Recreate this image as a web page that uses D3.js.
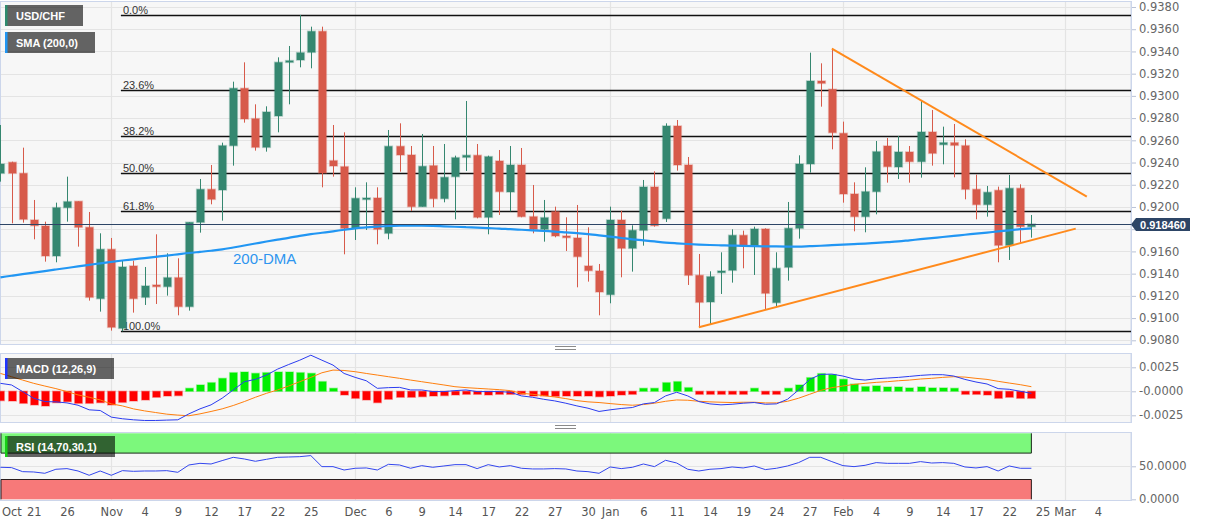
<!DOCTYPE html>
<html><head><meta charset="utf-8">
<script src="https://cdn.jsdelivr.net/npm/d3@7"></script>
<style>body{margin:0;background:#fff}svg{display:block}</style>
</head><body><svg id="c" width="1207" height="526"></svg>
<script>
// ---------- DATA (trading-day index: 0 = Oct 21) ----------
const firstIndex = -3;
const open = [0.92303,0.92402,0.92303,0.91883,0.91829,0.91559,0.91994,0.92051,0.91817,0.91175,
0.91619,0.90908,0.91469,0.91187,0.91298,0.91283,0.91364,0.91103,0.91862,0.92159,
0.92153,0.92552,0.93068,0.92795,0.92537,0.92819,0.93302,0.93323,0.93392,0.93581,
0.92417,0.92363,0.91808,0.92075,0.92081,0.91763,0.92546,0.92468,0.92003,0.92372,
0.92075,0.92273,0.92447,0.92465,0.91907,0.92414,0.92135,0.92378,0.91913,0.91799,
0.91958,0.91739,0.91721,0.91469,0.91424,0.91211,0.91883,0.91628,0.91790,0.92180,
0.91895,0.92729,0.92378,0.91385,0.91145,0.91409,0.91430,0.91745,0.91649,0.91802,
0.91139,0.91457,0.91808,0.92387,0.93134,0.93059,0.92663,0.92117,0.91913,0.92138,
0.92549,0.92360,0.92495,0.92408,0.92675,0.92561,0.92579,0.92552,0.92159,0.92021,
0.92150,0.91655,0.92168,0.91823];
const high = [0.92738,0.92408,0.92534,0.92063,0.91868,0.92039,0.92273,0.92051,0.91955,0.91763,
0.91721,0.91517,0.91517,0.91460,0.91754,0.91583,0.91538,0.91862,0.92252,0.92378,
0.92579,0.93128,0.93302,0.92924,0.92906,0.93347,0.93449,0.93728,0.93623,0.93623,
0.92738,0.92672,0.92177,0.92222,0.92177,0.92693,0.92753,0.92549,0.92657,0.92549,
0.92567,0.92462,0.92954,0.92567,0.92462,0.92513,0.92549,0.92531,0.92198,0.92063,
0.92003,0.91907,0.92018,0.91817,0.91487,0.92003,0.91967,0.91835,0.92243,0.92321,
0.92753,0.92783,0.92450,0.91577,0.91421,0.91592,0.91799,0.91787,0.91823,0.91808,
0.91592,0.92045,0.92465,0.93389,0.93293,0.93425,0.92768,0.92222,0.92357,0.92594,
0.92621,0.92639,0.92549,0.92954,0.92873,0.92723,0.92747,0.92609,0.92291,0.92189,
0.92183,0.92288,0.92204,0.91928];
const low = [0.92228,0.91853,0.91859,0.91709,0.91508,0.91502,0.91868,0.91643,0.91157,0.91058,
0.90887,0.90881,0.91049,0.91118,0.91127,0.91202,0.91025,0.91067,0.91769,0.92024,
0.91877,0.92372,0.92759,0.92507,0.92498,0.92672,0.92924,0.93257,0.93248,0.92177,
0.92273,0.91574,0.91703,0.91793,0.91664,0.91709,0.92318,0.91964,0.92003,0.91997,
0.92042,0.91889,0.92324,0.91898,0.91754,0.91928,0.91961,0.91907,0.91763,0.91688,
0.91727,0.91604,0.91277,0.91328,0.91025,0.91133,0.91367,0.91418,0.91652,0.91823,
0.91865,0.92327,0.91298,0.90917,0.90947,0.91217,0.91319,0.91448,0.91388,0.91079,
0.91103,0.91337,0.91715,0.92309,0.92903,0.92519,0.92039,0.91781,0.91772,0.91934,
0.92219,0.92252,0.92219,0.92264,0.92372,0.92384,0.92267,0.92069,0.91889,0.91913,
0.91502,0.91523,0.91679,0.91724];
const close = [0.92387,0.92303,0.91889,0.91832,0.91559,0.91994,0.92048,0.91817,0.91187,0.91619,
0.90917,0.91460,0.91175,0.91289,0.91283,0.91364,0.91103,0.91862,0.92159,0.92069,
0.92552,0.93068,0.92792,0.92537,0.92855,0.93302,0.93317,0.93389,0.93581,0.92306,
0.92369,0.91808,0.92078,0.92081,0.91799,0.92546,0.92468,0.92003,0.92366,0.92075,
0.92267,0.92444,0.92465,0.91907,0.92453,0.92138,0.92378,0.91913,0.91799,0.91904,
0.91739,0.91724,0.91553,0.91427,0.91235,0.91883,0.91628,0.91790,0.92180,0.91832,
0.92729,0.92378,0.91385,0.91142,0.91373,0.91424,0.91745,0.91649,0.91802,0.91223,
0.91448,0.91808,0.92387,0.93134,0.93113,0.92669,0.92117,0.91913,0.92138,0.92498,
0.92363,0.92495,0.92408,0.92675,0.92483,0.92579,0.92555,0.92159,0.92021,0.92132,
0.91655,0.92168,0.91823,0.91846];
const sma200 = [0.91367,0.91381,0.91395,0.91409,0.91423,0.91437,0.91451,0.91465,0.91479,0.91493,
0.91506,0.91518,0.91529,0.91540,0.91551,0.91562,0.91574,0.91586,0.91596,0.91606,
0.91618,0.91635,0.91653,0.91671,0.91689,0.91706,0.91722,0.91740,0.91755,0.91768,
0.91781,0.91795,0.91808,0.91816,0.91823,0.91829,0.91832,0.91833,0.91832,0.91830,
0.91826,0.91822,0.91818,0.91814,0.91810,0.91806,0.91800,0.91795,0.91790,0.91784,
0.91779,0.91772,0.91765,0.91756,0.91745,0.91733,0.91721,0.91709,0.91700,0.91690,
0.91680,0.91673,0.91667,0.91662,0.91658,0.91655,0.91652,0.91650,0.91648,0.91646,
0.91645,0.91644,0.91643,0.91647,0.91651,0.91656,0.91661,0.91666,0.91671,0.91677,
0.91683,0.91690,0.91700,0.91710,0.91720,0.91730,0.91740,0.91750,0.91760,0.91770,
0.91780,0.91790,0.91800,0.91808];
const macdLine = [0.00083,0.00066,-0.00003,-0.00072,-0.00107,-0.00110,-0.00121,-0.00145,-0.00193,-0.00200,
-0.00269,-0.00286,-0.00297,-0.00304,-0.00304,-0.00300,-0.00297,-0.00235,-0.00183,-0.00141,
-0.00072,0.00014,0.00100,0.00124,0.00169,0.00231,0.00279,0.00324,0.00376,0.00324,
0.00273,0.00186,0.00145,0.00110,0.00031,0.00038,0.00041,0.00014,0.00014,-0.00003,
-0.00003,0.00007,0.00014,-0.00003,-0.00003,-0.00003,-0.00010,-0.00048,-0.00062,-0.00083,
-0.00100,-0.00124,-0.00152,-0.00176,-0.00210,-0.00193,-0.00179,-0.00169,-0.00131,-0.00117,
-0.00048,-0.00010,-0.00048,-0.00107,-0.00131,-0.00141,-0.00135,-0.00124,-0.00117,-0.00135,
-0.00131,-0.00083,0.00014,0.00124,0.00176,0.00179,0.00159,0.00128,0.00117,0.00131,
0.00138,0.00145,0.00155,0.00166,0.00173,0.00173,0.00159,0.00124,0.00097,0.00076,
0.00028,0.00021,0.00000,-0.00021];
const signalLine = [0.00186,0.00152,0.00117,0.00083,0.00055,0.00028,-0.00003,-0.00038,-0.00062,-0.00090,
-0.00131,-0.00152,-0.00183,-0.00204,-0.00221,-0.00238,-0.00248,-0.00255,-0.00235,-0.00210,
-0.00183,-0.00148,-0.00107,-0.00062,-0.00021,0.00014,0.00055,0.00100,0.00145,0.00193,
0.00221,0.00217,0.00204,0.00186,0.00169,0.00152,0.00135,0.00117,0.00100,0.00083,
0.00066,0.00048,0.00038,0.00031,0.00024,0.00017,0.00007,-0.00021,-0.00031,-0.00045,
-0.00059,-0.00076,-0.00097,-0.00110,-0.00117,-0.00128,-0.00138,-0.00145,-0.00138,-0.00124,
-0.00104,-0.00090,-0.00093,-0.00104,-0.00110,-0.00114,-0.00117,-0.00114,-0.00114,-0.00121,
-0.00121,-0.00104,-0.00072,-0.00031,0.00010,0.00038,0.00055,0.00072,0.00083,0.00093,
0.00100,0.00110,0.00117,0.00128,0.00135,0.00145,0.00152,0.00148,0.00135,0.00124,
0.00104,0.00086,0.00069,0.00048];
const macdHist = [-0.00097,-0.00101,-0.00125,-0.00142,-0.00153,-0.00118,-0.00108,-0.00125,-0.00125,-0.00118,
-0.00142,-0.00115,-0.00101,-0.00090,-0.00062,-0.00049,-0.00045,0.00014,0.00066,0.00090,
0.00135,0.00194,0.00201,0.00187,0.00194,0.00201,0.00201,0.00194,0.00187,0.00101,
0.00031,-0.00038,-0.00073,-0.00090,-0.00118,-0.00083,-0.00062,-0.00062,-0.00056,-0.00049,
-0.00045,-0.00038,-0.00031,-0.00021,-0.00038,-0.00031,-0.00024,-0.00031,-0.00049,-0.00049,
-0.00052,-0.00049,-0.00049,-0.00049,-0.00056,-0.00049,-0.00038,-0.00021,0.00021,0.00024,
0.00090,0.00101,0.00038,-0.00021,-0.00031,-0.00031,-0.00014,-0.00014,0.00003,-0.00014,
-0.00014,0.00007,0.00066,0.00142,0.00184,0.00174,0.00125,0.00076,0.00049,0.00056,
0.00045,0.00045,0.00035,0.00045,0.00035,0.00035,0.00028,-0.00007,-0.00031,-0.00038,
-0.00073,-0.00062,-0.00073,-0.00073];
const rsi = [48.5,48.0,41.9,41.4,39.4,45.5,46.5,42.9,36.4,42.9,
36.4,43.4,42.4,42.9,42.9,43.4,40.9,52.0,54.5,53.5,
58.6,63.6,61.1,57.6,60.6,63.6,64.1,64.6,66.2,49.5,
49.5,44.4,47.0,47.5,44.4,53.0,52.0,47.0,51.0,48.5,
50.5,52.5,52.5,46.5,52.5,49.0,51.0,47.0,46.0,46.0,
46.5,46.0,42.9,41.9,39.4,49.0,46.5,48.5,53.5,49.5,
59.1,55.0,45.5,42.9,45.5,46.5,49.0,47.5,50.5,45.0,
47.0,50.5,55.6,63.6,63.6,57.1,51.0,49.5,51.5,55.6,
54.5,54.5,54.5,57.1,55.0,55.6,54.5,49.0,47.5,49.5,
42.9,50.5,47.0,47.0];

const priceTicks = [0.938,0.936,0.934,0.932,0.930,0.928,0.926,0.924,0.922,0.920,0.918,0.916,0.914,0.912,0.910,0.908];
const macdTicks = [0.0025, 0, -0.0025];
const macdTickText = ["0.0025", "-0.0000", "-0.0025"];
const rsiTicks = [50, 0];
const rsiTickText = ["50.0000", "0.0000"];
const xTickIdx  = [-3,0,3,7,10,13,16,19,22,25,29,32,35,38,41,44,47,50,52,55,58,61,64,67,70,73,76,79,82,85,88,91,93,96];
const xTickText = ["Oct","21","26","Nov","4","9","12","17","22","25","Dec","6","9","14","17","22","27","30","Jan","6","11","14","19","24","27","Feb","4","9","14","17","22","25","Mar","4"];
const monthStarts = [7,29,52,73,93];
const fibLevels = [0, 0.236, 0.382, 0.5, 0.618, 1];
const fibText = ["0.0%","23.6%","38.2%","50.0%","61.8%","100.0%"];
const fibHigh = 0.93725, fibLow = 0.90881, fibStartIdx = 8;
const downTrend = [[72, 0.93425], [95, 0.92093]];
const upTrend = [[60, 0.90917], [94, 0.91805]];
const lastPrice = 0.91846;

// ---------- LAYOUT ----------
const svg = d3.select("#c");
const plotR = 1131;
const P = {top: 1, bottom: 344};
const M = {top: 353, bottom: 422};
const R = {top: 432, bottom: 500};
const x = d3.scaleLinear().domain([0, 96]).range([33.7, 1097.9]);
const y = d3.scaleLinear().domain([0.908, 0.938]).range([340.3, 7]);
const ym = d3.scaleLinear().domain([-0.0025, 0.0025]).range([415.3, 367.3]);
const yr = d3.scaleLinear().domain([0, 100]).range([499.3, 433.3]);
const idx = d3.range(open.length).map(k => firstIndex + k);
const UP = "#358770", DN = "#d75a4a";
const gridC = "#e4e4e4", borderC = "#ccd6eb";
const axFont = "DejaVu Sans, sans-serif";

// panel backgrounds
[P, M, R].forEach(p => {
  svg.append("rect").attr("x", 0.5).attr("y", p.top + 0.5).attr("width", plotR - 0.5).attr("height", p.bottom - p.top)
    .attr("fill", "#f7f7f7").attr("stroke", borderC).attr("stroke-width", 1);
  svg.append("g").selectAll("line").data(monthStarts).join("line")
    .attr("x1", d => Math.round(x(d)) + 0.5).attr("x2", d => Math.round(x(d)) + 0.5)
    .attr("y1", p.top + 1).attr("y2", p.bottom).attr("stroke", gridC).attr("stroke-width", 1.2);
});

function rightAxis(scale, ticks, fmt, p, hideVal) {
  const g = svg.append("g").attr("transform", `translate(${plotR},0)`)
    .call(d3.axisRight(scale).tickValues(ticks).tickFormat(fmt).tickSize(5).tickPadding(3));
  g.select(".domain").remove();
  g.selectAll(".tick line").attr("stroke", "#b9c2d6");
  g.selectAll(".tick text").attr("fill", "#666").style("font", `11.5px ${axFont}`);
  if (hideVal !== undefined) g.selectAll(".tick").filter(d => Math.abs(d - hideVal) < 1e-9).select("text").remove();
  svg.append("line").attr("x1", plotR + 0.5).attr("x2", plotR + 0.5).attr("y1", p.top).attr("y2", p.bottom + 1)
    .attr("stroke", borderC);
}

// horizontal grids
svg.append("g").selectAll("line").data(priceTicks).join("line")
  .attr("x1", 1).attr("x2", plotR).attr("y1", d => Math.round(y(d)) + 0.5).attr("y2", d => Math.round(y(d)) + 0.5)
  .attr("stroke", gridC).attr("stroke-width", 1.2);
svg.append("g").selectAll("line").data(macdTicks).join("line")
  .attr("x1", 1).attr("x2", plotR).attr("y1", d => Math.round(ym(d)) + 0.5).attr("y2", d => Math.round(ym(d)) + 0.5)
  .attr("stroke", gridC).attr("stroke-width", 1.2);
svg.append("line").attr("x1", 1).attr("x2", plotR).attr("y1", Math.round(yr(50)) + 0.5).attr("y2", Math.round(yr(50)) + 0.5)
  .attr("stroke", gridC).attr("stroke-width", 1.2);

// the 0.9180 label sits under the last-price tag in the reference
rightAxis(y, priceTicks, d3.format(".4f"), P, 0.918);
rightAxis(ym, macdTicks, (d, i) => macdTickText[i], M);
rightAxis(yr, rsiTicks, (d, i) => rsiTickText[i], R);

// ---------- PRICE PANEL ----------
const fibG = svg.append("g");
fibLevels.forEach((f, i) => {
  const v = fibHigh - (fibHigh - fibLow) * f;
  const yy = Math.round(y(v)) + 0.5;
  fibG.append("line").attr("x1", x(fibStartIdx) - 1.5).attr("x2", plotR).attr("y1", yy).attr("y2", yy)
    .attr("stroke", "#111").attr("stroke-width", 1.3);
  fibG.append("text").attr("x", x(fibStartIdx) + 0.5).attr("y", yy - 2).text(fibText[i])
    .attr("fill", "#333").style("font", "11px 'Liberation Sans', Arial, sans-serif");
});

const cg = svg.append("g");
idx.forEach((d, k) => {
  const o = open[k], c = close[k], h = high[k], l = low[k];
  const col = c >= o ? UP : DN;
  const cx = Math.round(x(d)) + 0.5;
  cg.append("line").attr("x1", cx).attr("x2", cx).attr("y1", y(h)).attr("y2", y(l))
    .attr("stroke", col).attr("stroke-width", 1);
  const top = y(Math.max(o, c)), bot = y(Math.min(o, c));
  const hgt = Math.max(bot - top, 1.5);
  cg.append("rect").attr("x", cx - 3.8).attr("y", top).attr("width", 7.6).attr("height", hgt)
    .attr("fill", col).attr("stroke", col).attr("stroke-opacity", 0.35).attr("stroke-width", 1.6);
});

svg.append("path").datum(idx.map((d, k) => [d, sma200[k]]))
  .attr("d", d3.line().x(d => x(d[0])).y(d => y(d[1])).curve(d3.curveMonotoneX))
  .attr("fill", "none").attr("stroke", "#2196f3").attr("stroke-width", 2.2);
svg.append("text").attr("x", 233).attr("y", 264).text("200-DMA")
  .attr("fill", "#2e95ef").style("font", "15px 'Liberation Sans', Arial, sans-serif");

[downTrend, upTrend].forEach(t => {
  svg.append("line").attr("x1", x(t[0][0])).attr("y1", y(t[0][1])).attr("x2", x(t[1][0])).attr("y2", y(t[1][1]))
    .attr("stroke", "#ff8a1c").attr("stroke-width", 2);
});

const ly = Math.round(y(lastPrice)) + 0.5;
svg.append("line").attr("x1", 0).attr("x2", plotR).attr("y1", ly).attr("y2", ly)
  .attr("stroke", "#2d4566").attr("stroke-width", 1);
svg.append("path").attr("d", `M${plotR},${ly} L${plotR + 5},${ly - 6.5} L${plotR + 59},${ly - 6.5} L${plotR + 59},${ly + 6.5} L${plotR + 5},${ly + 6.5} Z`)
  .attr("fill", "#2d4566");
svg.append("text").attr("x", plotR + 32).attr("y", ly + 4).attr("text-anchor", "middle").text(lastPrice.toFixed(6))
  .attr("fill", "#fff").style("font", "bold 11px 'Liberation Sans', Arial, sans-serif");

// ---------- MACD PANEL ----------
const hg = svg.append("g");
idx.forEach((d, k) => {
  const v = macdHist[k];
  const cx = Math.round(x(d)) + 0.5;
  const y0 = ym(0), y1 = ym(v);
  let top = Math.min(y0, y1), h = Math.abs(y1 - y0);
  if (h < 3) { h = 3; if (v < 0) top = y0; else top = y0 - 3; }
  const col = v >= 0 ? "#00ee00" : "#ff0000";
  hg.append("rect").attr("x", cx - 3.8).attr("y", top).attr("width", 7.6).attr("height", h)
    .attr("fill", col).attr("stroke", col).attr("stroke-opacity", 0.3).attr("stroke-width", 1.5);
});
svg.append("path").datum(idx.map((d, k) => [d, signalLine[k]]))
  .attr("d", d3.line().x(d => x(d[0])).y(d => ym(d[1])))
  .attr("fill", "none").attr("stroke", "#ff7f0e").attr("stroke-width", 1);
svg.append("path").datum(idx.map((d, k) => [d, macdLine[k]]))
  .attr("d", d3.line().x(d => x(d[0])).y(d => ym(d[1])))
  .attr("fill", "none").attr("stroke", "#2b3cf0").attr("stroke-width", 1);

// ---------- RSI PANEL ----------
const bandR = x(idx[idx.length - 1]);
svg.append("rect").attr("x", 1).attr("y", yr(100)).attr("width", bandR - 1).attr("height", yr(70) - yr(100)).attr("fill", "#7cf87c");
svg.append("rect").attr("x", 1).attr("y", yr(30)).attr("width", bandR - 1).attr("height", yr(0) - yr(30)).attr("fill", "#f77979");
svg.append("path").attr("d", `M1,${yr(100)} L1,${yr(70)} L${bandR},${yr(70)} L${bandR},${yr(100)}`)
  .attr("fill", "none").attr("stroke", "#1c2a1c").attr("stroke-width", 1);
svg.append("path").attr("d", `M1,${yr(0)} L1,${yr(30)} L${bandR},${yr(30)} L${bandR},${yr(0)}`)
  .attr("fill", "none").attr("stroke", "#2a1c1c").attr("stroke-width", 1);
svg.append("path").datum(idx.map((d, k) => [d, rsi[k]]))
  .attr("d", d3.line().x(d => x(d[0])).y(d => yr(d[1])))
  .attr("fill", "none").attr("stroke", "#3346ee").attr("stroke-width", 1);

// ---------- X AXIS ----------
const xa = svg.append("g").attr("transform", `translate(0,${R.bottom})`)
  .call(d3.axisBottom(x).tickValues(xTickIdx).tickFormat((d, i) => xTickText[i]).tickSize(0).tickPadding(8));
xa.select(".domain").remove();
xa.selectAll(".tick text").attr("fill", "#555").style("font", `11.5px ${axFont}`);
xa.selectAll(".tick").filter(d => d === -3).select("text").attr("text-anchor", "start").attr("x", 1);

// ---------- HANDLES ----------
[[346.5, 349.5], [425.5, 428.5]].forEach(p => p.forEach(yy => {
  svg.append("line").attr("x1", 555).attr("x2", 576).attr("y1", yy).attr("y2", yy).attr("stroke", "#8a8a8a").attr("stroke-width", 1);
}));

// ---------- LEGENDS ----------
function legend(xx, yy, w, txt, accent) {
  svg.append("rect").attr("x", xx).attr("y", yy).attr("width", w).attr("height", 21).attr("fill", "rgba(0,0,0,0.6)");
  svg.append("rect").attr("x", xx).attr("y", yy).attr("width", 2.5).attr("height", 21).attr("fill", accent);
  svg.append("text").attr("x", xx + 11).attr("y", yy + 14.5).text(txt)
    .attr("fill", "#fff").style("font", "bold 11px 'Liberation Sans', Arial, sans-serif");
}
legend(5, 5, 78, "USD/CHF", "#2e8b6e");
legend(5, 32, 90, "SMA (200,0)", "#2196f3");
legend(5, 358, 109, "MACD (12,26,9)", "#1f35ff");
legend(5, 436, 110, "RSI (14,70,30,1)", "#16d016");
</script></body></html>
